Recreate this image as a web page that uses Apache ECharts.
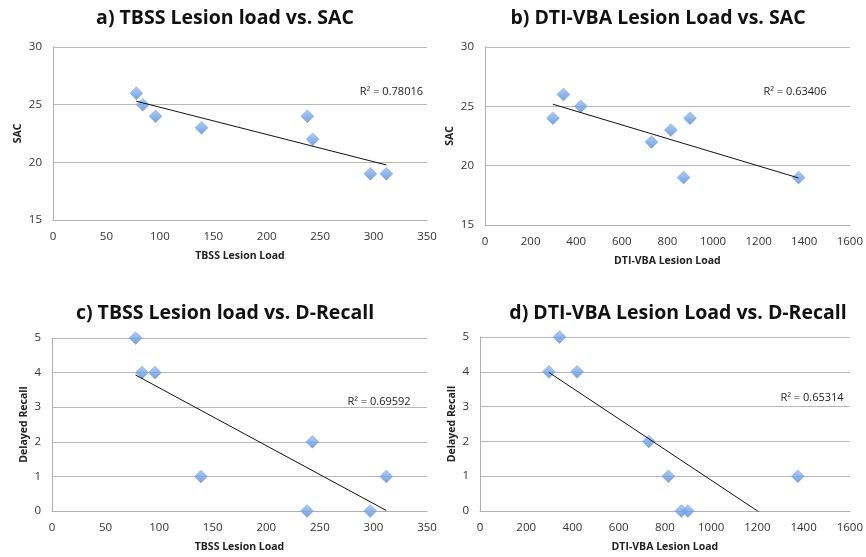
<!DOCTYPE html>
<html>
<head>
<meta charset="utf-8">
<script src="https://cdn.jsdelivr.net/npm/echarts@6/dist/echarts.min.js"></script>
<style>
  html, body { margin: 0; padding: 0; background: #fff; }
  #chart { width: 866px; height: 557px; }
</style>
</head>
<body>
<div id="chart"></div>
<script>
// one entry per subject, same order in every array
const tbssLoad = [78, 84, 96, 139, 238, 243, 297, 312]
const vbaLoad = [344, 420, 298, 815, 899, 730, 871, 1375]
const sac = [26, 25, 24, 23, 24, 22, 19, 19]
const dRecall = [5, 4, 4, 1, 0, 2, 0, 1]

const panelTitles = [
  'a) TBSS Lesion load vs. SAC',
  'b) DTI-VBA Lesion Load vs. SAC',
  'c) TBSS Lesion load vs. D-Recall',
  'd) DTI-VBA Lesion Load vs. D-Recall'
]
const r2Labels = ['R² = 0.78016', 'R² = 0.63406', 'R² = 0.69592', 'R² = 0.65314']

const FONT = '"Open Sans", "DejaVu Sans", sans-serif'

// least squares line over the range of x
const trend = (xs, ys) => {
  const n = xs.length
  const mx = xs.reduce((a, b) => a + b, 0) / n
  const my = ys.reduce((a, b) => a + b, 0) / n
  let sxy = 0, sxx = 0
  xs.forEach((x, i) => { sxy += (x - mx) * (ys[i] - my); sxx += (x - mx) * (x - mx) })
  const k = sxy / sxx
  const x0 = Math.min(...xs), x1 = Math.max(...xs)
  return [[x0, my + k * (x0 - mx)], [x1, my + k * (x1 - mx)]]
}

const panels = [
  { x: tbssLoad, y: sac, xName: 'TBSS Lesion Load', yName: 'SAC', xMax: 350, xStep: 50, yMin: 15, yMax: 30, yStep: 5,
    grid: { left: 53, right: 439, top: 47, height: 173 }, yGap: 29 },
  { x: vbaLoad, y: sac, xName: 'DTI-VBA Lesion Load', yName: 'SAC', xMax: 1600, xStep: 200, yMin: 15, yMax: 30, yStep: 5,
    grid: { left: 485, right: 12, top: 47, height: 178 }, yGap: 29 },
  { x: tbssLoad, y: dRecall, xName: 'TBSS Lesion Load', yName: 'Delayed Recall', xMax: 350, xStep: 50, yMin: 0, yMax: 5, yStep: 1,
    grid: { left: 52, right: 439, top: 338, height: 173 }, yGap: 22 },
  { x: vbaLoad, y: dRecall, xName: 'DTI-VBA Lesion Load', yName: 'Delayed Recall', xMax: 1600, xStep: 200, yMin: 0, yMax: 5, yStep: 1,
    grid: { left: 480, right: 15, top: 337, height: 174 }, yGap: 22 }
]

const titlePos = [[220, 3], [653, 3], [220, 298], [673, 298]]
const r2Pos = [
  { x: 423, y: 92, align: 'right' },
  { x: 795, y: 92, align: 'center' },
  { x: 379, y: 402, align: 'center' },
  { x: 812, y: 398, align: 'center' }
]

const labelStyle = { color: '#333', fontSize: 11.5, fontFamily: FONT, formatter: v => String(v) }
const nameStyle = { color: '#222', fontSize: 10.5, fontWeight: 'bold', fontFamily: FONT }

const markerColor = new echarts.graphic.LinearGradient(0, 0, 0, 1, [
  { offset: 0, color: '#9cc0f0' },
  { offset: 1, color: '#5189d8' }
])

const option = {
  backgroundColor: '#fff',
  animation: false,
  title: panelTitles.map((t, i) => ({
    text: t,
    left: titlePos[i][0],
    top: titlePos[i][1],
    textAlign: 'center',
    textStyle: { fontFamily: FONT, fontSize: 19.5, fontWeight: 'bold', color: '#111' }
  })),
  grid: panels.map(p => p.grid),
  xAxis: panels.map((p, i) => ({
    type: 'value',
    gridIndex: i,
    min: 0,
    max: p.xMax,
    interval: p.xStep,
    name: p.xName,
    nameLocation: 'middle',
    nameGap: 31,
    nameTextStyle: nameStyle,
    axisLine: { show: true, lineStyle: { color: '#b0b0b0' } },
    axisTick: { show: false },
    axisLabel: Object.assign({ margin: 11 }, labelStyle),
    splitLine: { show: false }
  })),
  yAxis: panels.map((p, i) => ({
    type: 'value',
    gridIndex: i,
    min: p.yMin,
    max: p.yMax,
    interval: p.yStep,
    name: p.yName,
    nameLocation: 'middle',
    nameGap: p.yGap,
    nameTextStyle: nameStyle,
    axisLine: { show: true, lineStyle: { color: '#b0b0b0' } },
    axisTick: { show: false },
    axisLabel: Object.assign({ margin: 11 }, labelStyle),
    splitLine: { show: true, lineStyle: { color: '#b8b8b8' } }
  })),
  series: panels.flatMap((p, i) => [
    {
      type: 'line',
      xAxisIndex: i,
      yAxisIndex: i,
      data: trend(p.x, p.y),
      symbol: 'none',
      clip: true,
      lineStyle: { color: '#111', width: 1 },
      z: 3
    },
    {
      type: 'scatter',
      xAxisIndex: i,
      yAxisIndex: i,
      data: p.x.map((v, j) => [v, p.y[j]]),
      symbol: 'diamond',
      symbolSize: 13,
      itemStyle: { color: markerColor, borderColor: '#6d9be0', borderWidth: 0.5 },
      z: 2
    }
  ]),
  graphic: r2Labels.map((t, i) => ({
    type: 'text',
    x: r2Pos[i].x,
    y: r2Pos[i].y,
    style: {
      text: t,
      align: r2Pos[i].align,
      verticalAlign: 'middle',
      fill: '#222',
      font: '11px ' + FONT
    }
  }))
}

const chart = echarts.init(document.getElementById('chart'), null, { renderer: 'canvas' })
chart.setOption(option)
</script>
</body>
</html>
